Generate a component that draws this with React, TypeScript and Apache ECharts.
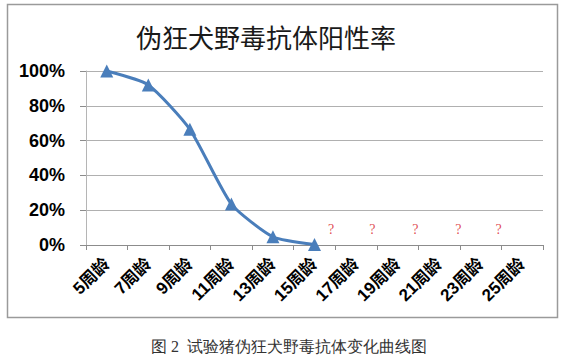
import React, { useEffect, useRef } from "react";
import * as echarts from "echarts";

const categories = ["5周龄", "7周龄", "9周龄", "11周龄", "13周龄", "15周龄", "17周龄", "19周龄", "21周龄", "23周龄", "25周龄"];
const positiveRate = [1.0, 0.92, 0.665, 0.235, 0.047, 0.003];
const unknownX = [5.9, 6.89, 7.93, 8.96, 9.93];
const unknownY = [0.09, 0.09, 0.09, 0.09, 0.09];
const yTicks = [0, 0.2, 0.4, 0.6, 0.8, 1.0];
const titleText = "伪狂犬野毒抗体阳性率";
const captionText = "图 2  试验猪伪狂犬野毒抗体变化曲线图";

export default function App() {
  const ref = useRef<HTMLDivElement>(null);
  useEffect(() => {
    if (!ref.current) return;
    const chart = echarts.init(ref.current, null, { renderer: "svg" });
    const font = "'Liberation Sans', 'Noto Sans CJK SC', sans-serif";
    chart.setOption({
      animation: false,
      backgroundColor: "#fff",
      title: [
        {
          text: titleText,
          left: 261,
          top: 18,
          textAlign: "center",
          textStyle: { fontSize: 26, fontWeight: "normal", color: "#1a1a1a", fontFamily: "'Noto Sans CJK SC', sans-serif" },
        },
        {
          text: captionText,
          left: 284,
          top: 333,
          textAlign: "center",
          textStyle: { fontSize: 16, fontWeight: "normal", color: "#333", fontFamily: "serif" },
        },
      ],
      graphic: [
        {
          type: "rect",
          shape: { x: 7.5, y: 4.5, width: 550, height: 313 },
          style: { fill: "none", stroke: "#9a9a9a", lineWidth: 1.5 },
        },
      ],
      grid: { left: 86, right: 24, top: 71, bottom: 112 },
      xAxis: [
        {
          type: "category",
          data: categories,
          boundaryGap: true,
          axisLine: { lineStyle: { color: "#8c8c8c", width: 1 } },
          axisTick: { show: true, length: 5, lineStyle: { color: "#8c8c8c" } },
          axisLabel: {
            rotate: 45,
            interval: 0,
            margin: 16,
            fontSize: 17,
            fontWeight: "bold",
            color: "#000",
            fontFamily: font,
          },
        },
        { type: "value", min: 0, max: 11, show: false },
      ],
      yAxis: {
        type: "value",
        min: 0,
        max: 1,
        interval: 0.2,
        axisLine: { show: true, lineStyle: { color: "#b5b5b5" } },
        axisTick: { show: true, length: 6, lineStyle: { color: "#8c8c8c" } },
        splitLine: { lineStyle: { color: "#b0b0b0", width: 1 } },
        axisLabel: {
          formatter: (v: number) => (yTicks.includes(Math.round(v * 10) / 10) ? Math.round(v * 100) + "%" : ""),
          fontSize: 18,
          fontWeight: "bold",
          color: "#000",
          margin: 21,
          fontFamily: font,
        },
      },
      series: [
        {
          type: "line",
          data: positiveRate,
          smooth: 0.2,
          symbol: "triangle",
          symbolSize: 13,
          lineStyle: { color: "#4a7ebb", width: 3 },
          itemStyle: { color: "#4a7ebb" },
        },
        {
          type: "scatter",
          xAxisIndex: 1,
          data: unknownX.map((x, i) => [x, unknownY[i]]),
          symbolSize: 0,
          label: {
            show: true,
            position: "inside",
            formatter: "?",
            color: "#d8202a",
            fontSize: 14,
            fontFamily: "serif",
          },
        },
      ],
    });
    return () => chart.dispose();
  }, []);
  return (
    <div
      ref={ref}
      style={{ position: "fixed", left: 0, top: 0, width: 567, height: 357, background: "#fff" }}
    />
  );
}
